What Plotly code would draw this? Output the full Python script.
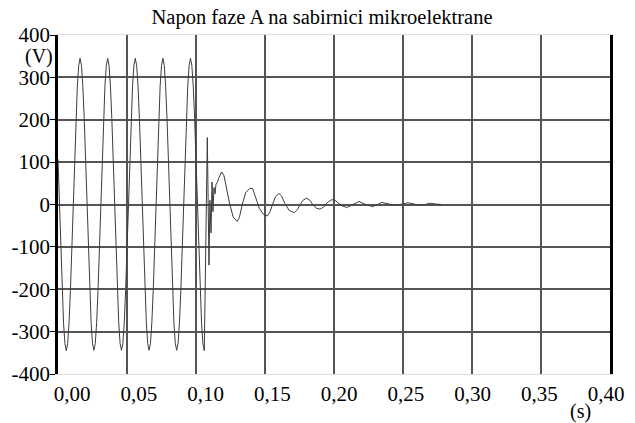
import plotly.graph_objects as go

# Phase A voltage, pre-fault part (sampled every 1 ms), values in V
t_pre_ms = [0, 1, 2, 3, 4, 5, 6, 7, 8, 9, 10, 11, 12, 13, 14, 15, 16, 17, 18, 19,
            20, 21, 22, 23, 24, 25, 26, 27, 28, 29, 30, 31, 32, 33, 34, 35, 36, 37, 38, 39,
            40, 41, 42, 43, 44, 45, 46, 47, 48, 49, 50, 51, 52, 53, 54, 55, 56, 57, 58, 59,
            60, 61, 62, 63, 64, 65, 66, 67, 68, 69, 70, 71, 72, 73, 74, 75, 76, 77, 78, 79,
            80, 81, 82, 83, 84, 85, 86, 87, 88, 89, 90, 91, 92, 93, 94, 95, 96, 97, 98, 99,
            100, 101, 102, 103, 104, 105, 106]
v_pre = [107, 0, -107, -203, -279, -328, -345, -328, -279, -203, -107, 0, 107, 203, 279, 328, 345, 328, 279, 203,
         107, 0, -107, -203, -279, -328, -344, -328, -279, -203, -107, 0, 107, 203, 279, 328, 345, 328, 279, 203,
         107, 0, -107, -203, -279, -328, -344, -328, -279, -203, -107, 0, 107, 203, 279, 328, 345, 328, 279, 203,
         107, 0, -107, -203, -279, -328, -344, -328, -279, -203, -107, 0, 107, 203, 279, 328, 345, 328, 279, 203,
         107, 0, -107, -203, -279, -328, -344, -328, -279, -203, -107, 0, 107, 203, 279, 328, 345, 328, 279, 203,
         107, 0, -107, -203, -279, -328, -345]

# Fault transient and decay (ms, V)
t_post_ms = [108.2, 109.4, 110.1, 110.9, 111.6, 112.3, 113.0, 113.8, 114.5, 115.5, 116.5, 118.6, 120.3,
             122.5, 124.5, 127.0, 129.9, 131.5, 133.5, 136.0, 139.0, 141.0, 143.5, 146.0, 149.0, 151.7,
             153.5, 155.5, 157.5, 160.1, 162.0, 164.5, 167.5, 171.2, 173.5, 175.5, 177.5, 180.2, 182.5,
             185.0, 187.5, 189.9, 192.5, 195.0, 197.5, 200.0, 202.5, 205.0, 209.2, 213.5, 218.1, 223.0,
             228.0, 231.5, 234.6, 240.0, 245.4, 249.5, 253.6, 258.0, 262.3, 266.0, 269.6, 274.0, 278.0]
v_post = [158, -143, 10, -67, 53, -17, 40, 25, 48, 52, 62, 77, 68,
          30, 0, -30, -40, -30, 0, 28, 38, 38, 15, -10, -24, -27,
          -18, 0, 18, 26, 20, 2, -14, -19, -12, 0, 10, 15, 10,
          -2, -9, -11, -6, 4, 10, 12, 6, -2, -7, 0, 7, 0,
          -5, 0, 5, 1, -2, 1, 4, 1, -2, 0, 3, 1, 0]

x_ticks = [0.00, 0.05, 0.10, 0.15, 0.20, 0.25, 0.30, 0.35, 0.40]
x_labels = ["0,00", "0,05", "0,10", "0,15", "0,20", "0,25", "0,30", "0,35", "0,40"]
y_ticks = [-400, -300, -200, -100, 0, 100, 200, 300, 400]
y_labels = ["-400", "-300", "-200", "-100", "0", "100", "200", "300", "400"]

title = "Napon faze A na sabirnici mikroelektrane"
font_name = "Liberation Serif"

t_s = [t / 1000.0 for t in t_pre_ms + t_post_ms]
v = v_pre + v_post

fig = go.Figure()
fig.add_trace(go.Scatter(x=t_s, y=v, mode="lines",
                         line=dict(color="#3c3c3c", width=1),
                         showlegend=False, hoverinfo="skip"))
# helper trace so the label axis is rendered
fig.add_trace(go.Scatter(x=[None], y=[None], xaxis="x2", mode="lines",
                         showlegend=False, hoverinfo="skip"))

grid_col = "#555555"
fig.update_layout(
    width=635, height=423,
    margin=dict(l=58, r=25, t=35, b=49, autoexpand=False),
    paper_bgcolor="white", plot_bgcolor="white",
    font=dict(family=font_name, size=21, color="black"),
    title=dict(text=title, x=322 / 635, xref="container", xanchor="center",
               y=1 - 17 / 423, yref="container", yanchor="middle",
               font=dict(family=font_name, size=20.5, color="black")),
    xaxis=dict(range=[0, 0.40], tickvals=x_ticks, showticklabels=False,
               showgrid=True, gridcolor=grid_col, gridwidth=1.5,
               zeroline=False, ticks="",
               showline=True, linecolor="#dcdcdc", linewidth=1, mirror=True,
               automargin=False),
    xaxis2=dict(overlaying="x", anchor="y", side="bottom",
                range=[-0.0105, 0.4030], tickvals=x_ticks, ticktext=x_labels,
                showgrid=False, zeroline=False, showline=False, ticks="",
                ticklabelstandoff=5,
                tickfont=dict(family=font_name, size=21, color="black"),
                automargin=False),
    yaxis=dict(range=[-400, 400], tickvals=y_ticks, ticktext=y_labels,
               showgrid=True, gridcolor=grid_col, gridwidth=1.5,
               zeroline=True, zerolinecolor=grid_col, zerolinewidth=1.5,
               ticks="outside", ticklen=5, tickcolor="black", tickwidth=1,
               ticklabelstandoff=-4,
               showline=True, linecolor="black", linewidth=2.5, mirror=True,
               tickfont=dict(family=font_name, size=21, color="black"),
               automargin=False),
    annotations=[
        dict(text="(V)", xref="paper", yref="paper", x=(39 - 58) / 552, y=(374 - 56) / 339,
             xanchor="center", yanchor="middle", showarrow=False,
             font=dict(family=font_name, size=20, color="black")),
        dict(text="(s)", xref="paper", yref="paper", x=(580 - 58) / 552, y=(374 - 411) / 339,
             xanchor="center", yanchor="middle", showarrow=False,
             font=dict(family=font_name, size=20, color="black")),
    ],
)

fig.write_html("out.html")
